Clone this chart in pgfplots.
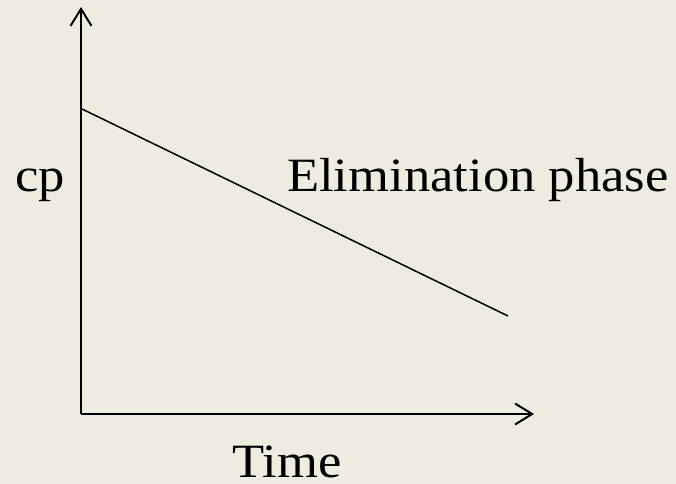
\documentclass[border=0pt]{standalone}
\usepackage{fontspec}
\setmainfont{Liberation Serif}[FakeStretch=1.1]
\usepackage{pgfplots}
\pgfplotsset{compat=1.18}
\usetikzlibrary{arrows.meta}
\definecolor{bg}{RGB}{238,235,224}

\begin{document}
\begin{tikzpicture}
  \fill[bg] (0,0) rectangle (676bp,484bp);
  \begin{axis}[
      at={(81bp,70bp)},
      anchor=origin,
      scale only axis,
      width=453bp,
      height=407bp,
      xmin=0, xmax=453,
      ymin=0, ymax=407,
      axis x line=bottom,
      axis y line=left,
      axis line style={line width=2bp, -{Straight Barb[length=17bp,width=21bp,line width=2bp]}},
      ticks=none,
      clip=false,
    ]
    % elimination phase (px from the origin)
    \addplot[black, line width=1.5bp] coordinates {
      (1, 305)
      (427, 98)
    };
  \end{axis}
  \begin{scope}[every node/.style={inner sep=0pt, font=\fontsize{48}{52}\selectfont}]
    \node[anchor=base] at (40bp,292bp) {cp};
    \node[anchor=base west] at (287bp,292bp) {Elimination phase};
    \node[anchor=base west] at (232bp,7bp) {Time};
  \end{scope}
  \pgfresetboundingbox
  \useasboundingbox (0,0) rectangle (676bp,484bp);
\end{tikzpicture}
\end{document}
